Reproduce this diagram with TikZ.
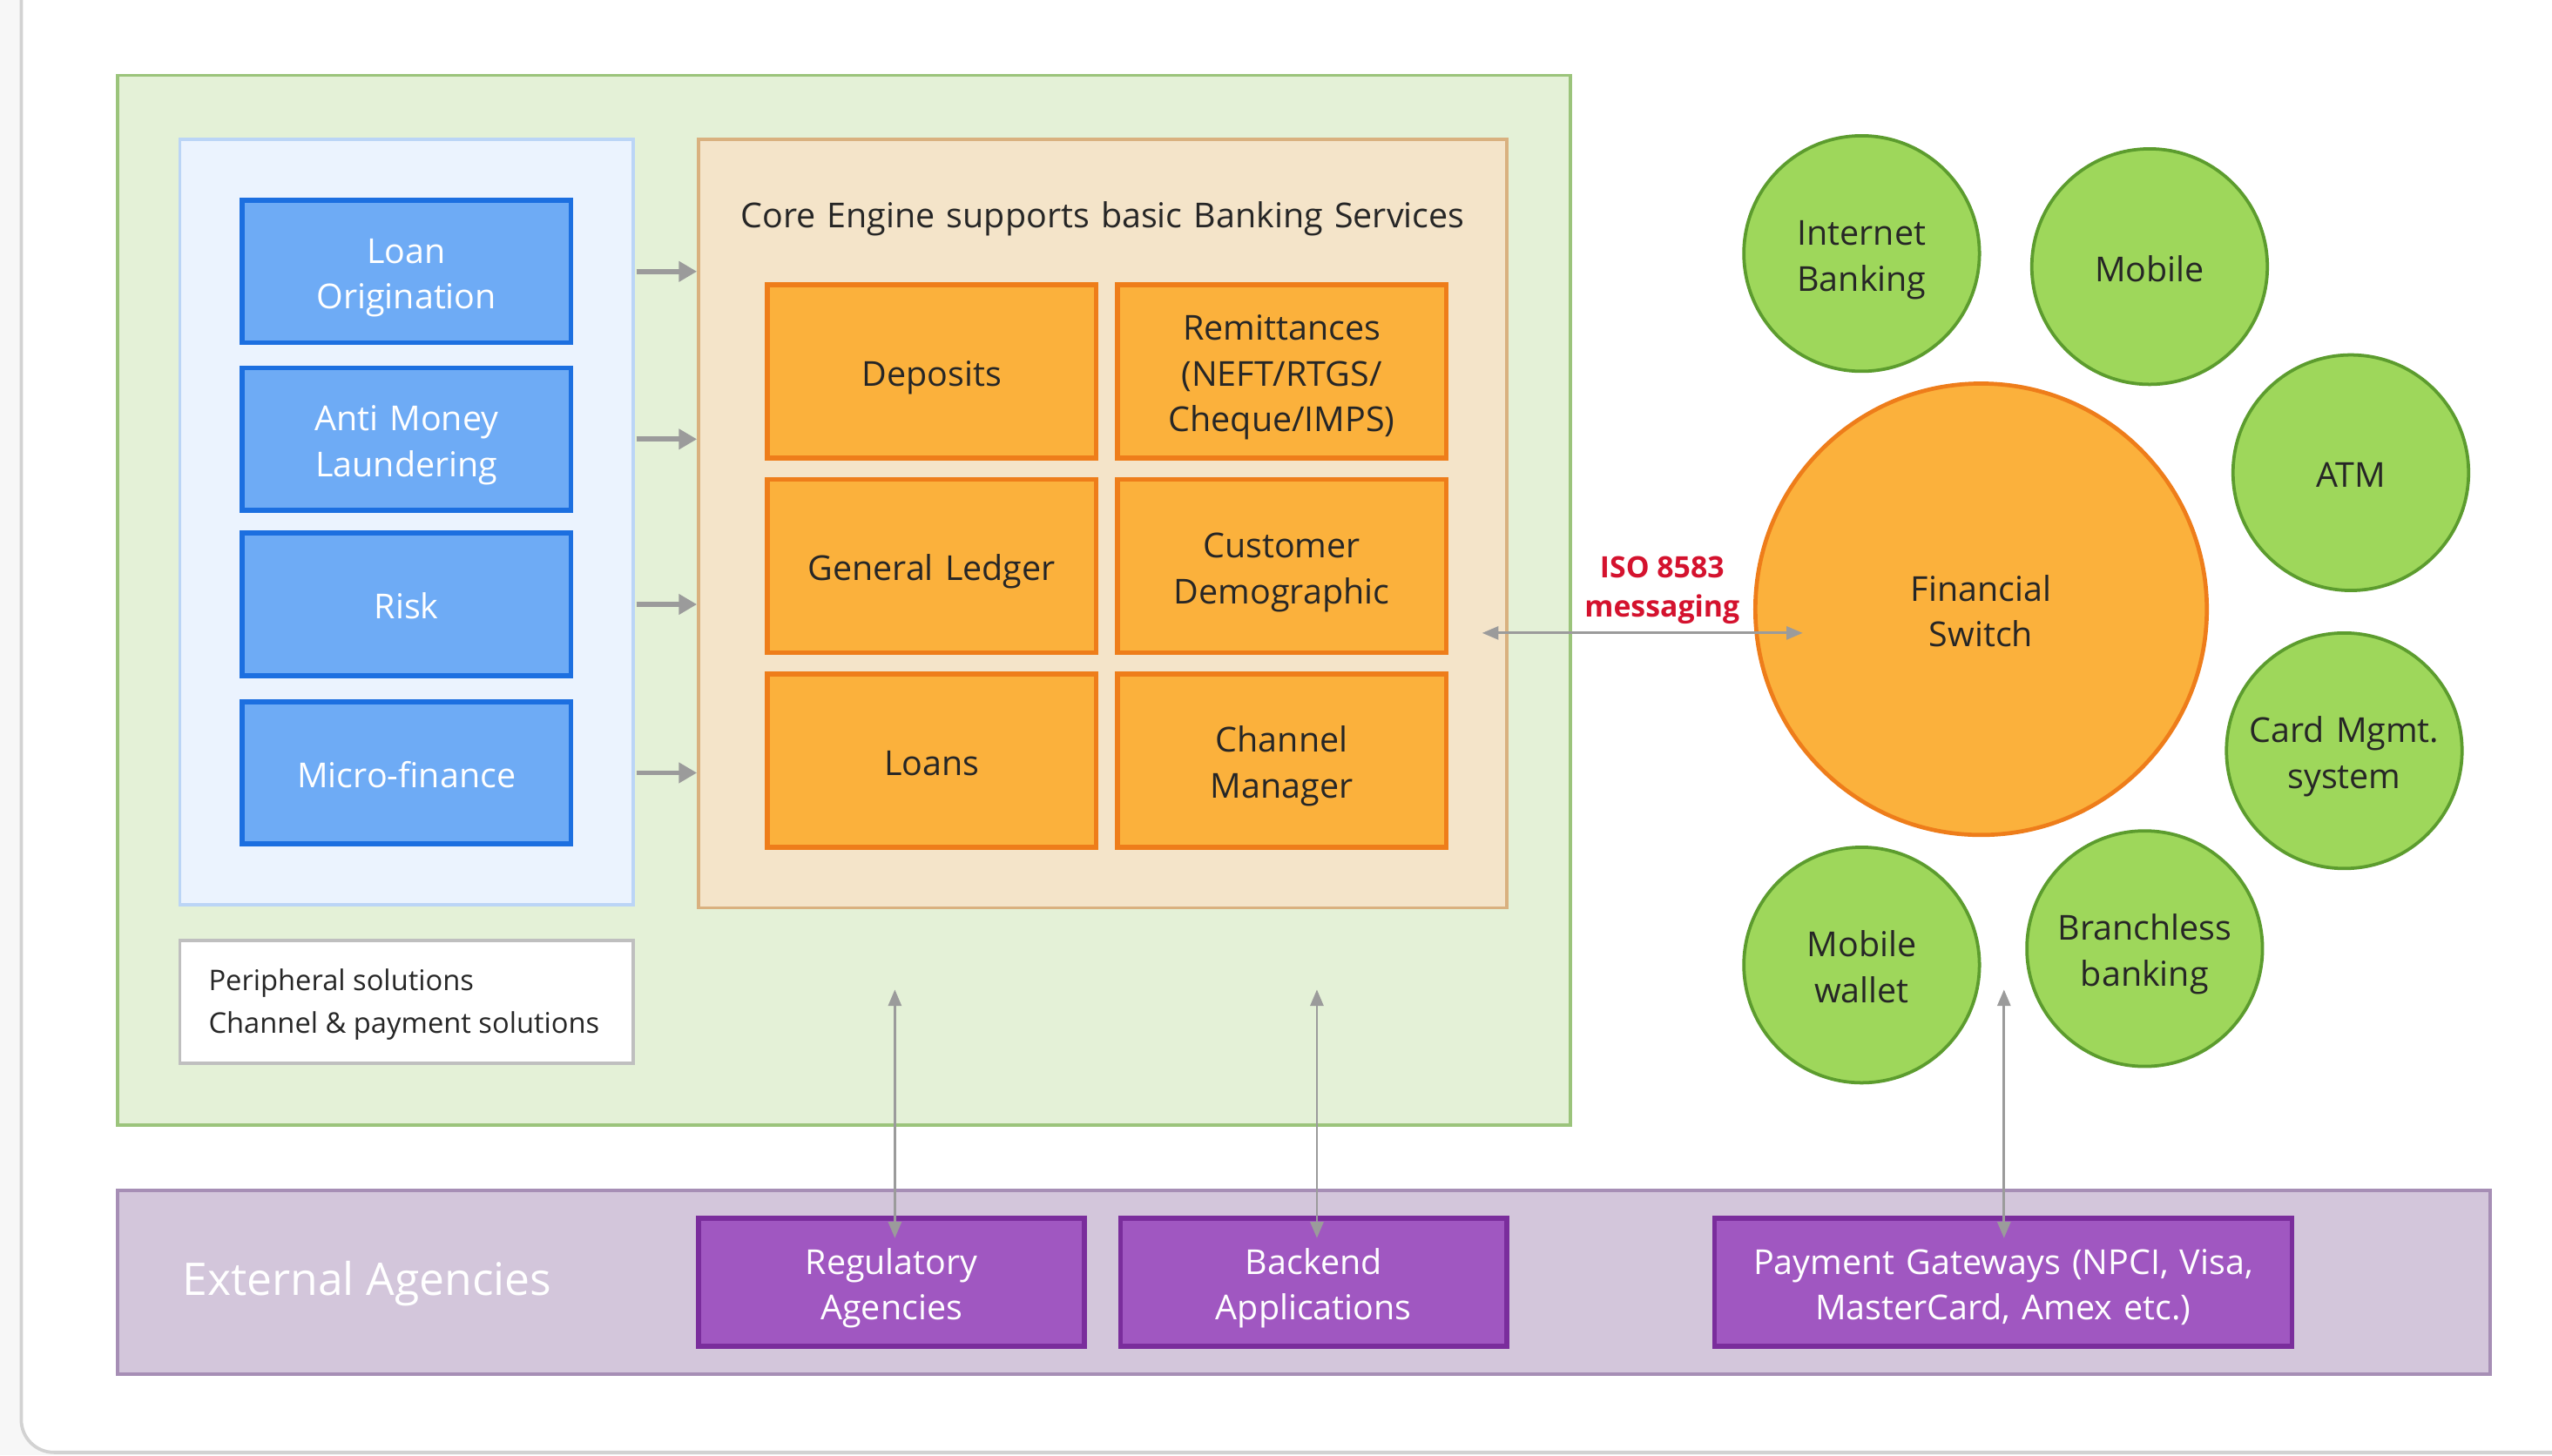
\documentclass[tikz,border=0pt]{standalone}
\usepackage{fontspec}
\setmainfont{Open Sans}
\usetikzlibrary{arrows.meta}

\definecolor{pagegray}{HTML}{F7F7F7}
\definecolor{cardline}{HTML}{D2D2D2}
\definecolor{bggreen}{HTML}{E4F1D7}
\definecolor{bggreenline}{HTML}{9BC47B}
\definecolor{sideblue}{HTML}{EBF3FE}
\definecolor{sideblueline}{HTML}{BBD5F6}
\definecolor{modblue}{HTML}{6EABF5}
\definecolor{modblueline}{HTML}{1C6FE0}
\definecolor{corefill}{HTML}{F4E4C9}
\definecolor{coreline}{HTML}{D9B17F}
\definecolor{svcorange}{HTML}{FBB13C}
\definecolor{svcline}{HTML}{EE7D1A}
\definecolor{chgreen}{HTML}{9ED75B}
\definecolor{chgreenline}{HTML}{5C9C2E}
\definecolor{extfill}{HTML}{D3C6DB}
\definecolor{extline}{HTML}{A68EB5}
\definecolor{agfill}{HTML}{A057C1}
\definecolor{agline}{HTML}{7A2D9C}
\definecolor{isored}{HTML}{D4122E}
\definecolor{arrgray}{HTML}{9B9B9B}
\definecolor{txtdark}{HTML}{262626}

% top and bottom struts, so every line sits the same way in its box
\newcommand\topstrut{\rule{0pt}{25pt}}
\newcommand\botstrut{\rule[-7pt]{0pt}{7pt}}

\tikzset{
  boxtext/.style={align=center, inner sep=0pt, text width=190pt,
    font=\fontsize{21}{28}\selectfont,
    execute at begin node=\topstrut, execute at end node=\botstrut},
  modbox/.style={boxtext, draw=modblueline, fill=modblue, line width=3pt, text=white,
    minimum width=201pt, minimum height=87pt},
  svcbox/.style={boxtext, draw=svcline, fill=svcorange, line width=3pt, text=txtdark,
    minimum width=201pt, minimum height=106pt},
  agbox/.style={boxtext, draw=agline, fill=agfill, line width=3pt, text=white,
    minimum height=78pt},
  chan/.style={boxtext, circle, draw=chgreenline, fill=chgreen, line width=2pt,
    text width=118pt, minimum size=144pt, text=txtdark},
  sidearr/.style={draw=arrgray, line width=3pt, -{Triangle[length=11pt,width=12pt]}},
  linkarr/.style={draw=arrgray, line width=1.5pt,
    {Triangle[length=10pt,width=8pt]}-{Triangle[length=10pt,width=8pt]}}
}

\begin{document}
\begin{tikzpicture}[x=1pt, y=-1pt]
  \useasboundingbox (0,0) rectangle (1560,889.7);
  % page behind the card
  \fill[pagegray] (0,0) rectangle (1560,889.7);
  \fill[white] (13,-5) -- (13,868) arc[start angle=180, end angle=90, radius=20] -- (1565,888) -- (1565,-5) -- cycle;
  \draw[cardline, line width=2pt] (13,-5) -- (13,868) arc[start angle=180, end angle=90, radius=20] -- (1565,888);

  % green area
  \draw[bggreenline, fill=bggreen, line width=2pt] (72,46) rectangle (960,688);
  \node[draw=sideblueline, fill=sideblue, line width=2pt, minimum width=277pt,
    minimum height=468pt, inner sep=0pt] (side) at (248.5,319) {};
  \node[draw=coreline, fill=corefill, line width=2pt, minimum width=494pt,
    minimum height=470pt, inner sep=0pt] (core) at (674,320) {};
  \node[boxtext, text width=480pt, text=txtdark] (coretitle) at (674,130)
    {Core Engine supports basic Banking Services};

  % peripheral modules
  \node[modbox] (loan) at (248.5,166) {Loan\\Origination};
  \node[modbox] (aml) at (248.5,268.5) {Anti Money\\Laundering};
  \node[modbox] (risk) at (248.5,369.5) {Risk};
  \node[modbox] (micro) at (248.5,472.5) {Micro-finance};

  \node[draw=black!25, fill=white, line width=2pt, minimum width=277pt,
    minimum height=75pt, inner sep=0pt] (peri) at (248.5,612.5) {};
  \node[anchor=west, align=left, text=txtdark, font=\fontsize{17.4}{26}\selectfont] (peritxt)
    at (124,614) {Peripheral solutions\\Channel \& payment solutions};

  % core services
  \node[svcbox] (dep) at (569.5,227) {Deposits};
  \node[svcbox] (rem) at (783.5,227) {Remittances\\(NEFT/RTGS/\\Cheque/IMPS)};
  \node[svcbox] (gl) at (569.5,346) {General Ledger};
  \node[svcbox] (cust) at (783.5,346) {Customer\\Demographic};
  \node[svcbox] (lns) at (569.5,465) {Loans};
  \node[svcbox] (chm) at (783.5,465) {Channel\\Manager};

  \foreach \m in {loan,aml,risk,micro}
    \draw[sidearr] (\m.east -| side.east) ++(1,0) -- (\m.east -| core.west);

  % switch and channels
  \node[boxtext, circle, draw=svcline, fill=svcorange, line width=2.5pt, minimum size=276pt,
    text width=200pt, text=txtdark] (switch) at (1211,372.5) {Financial\\Switch};
  \node[chan] (inet) at (1138,155) {Internet\\Banking};
  \node[chan] (mob) at (1314,163) {Mobile};
  \node[chan] (atm) at (1437,289) {ATM};
  \node[chan] (card) at (1433,459) {Card Mgmt.\\system};
  \node[chan] (brl) at (1311,580) {Branchless\\banking};
  \node[chan] (wal) at (1138,590) {Mobile\\wallet};

  \coordinate (isoA) at (906,387);
  \coordinate (isoB) at (1102,387);
  \draw[linkarr] (isoA) -- (isoB);
  \node[text=isored, align=center, font=\bfseries\fontsize{18}{24}\selectfont] (iso)
    at (1016,361) {ISO 8583\\messaging};

  % external agencies
  \draw[extline, fill=extfill, line width=2pt] (72,728) rectangle (1522,840);
  \node[anchor=west, text=white, font=\fontsize{27.5}{34}\selectfont] (ext) at (108,785)
    {External Agencies};
  \node[agbox, minimum width=236pt, text width=225pt] (reg) at (545,784) {Regulatory\\Agencies};
  \node[agbox, minimum width=236pt, text width=225pt] (back) at (803,784) {Backend\\Applications};
  \node[agbox, minimum width=353pt, text width=340pt] (pay) at (1224.5,784)
    {Payment Gateways (NPCI, Visa,\\MasterCard, Amex etc.)};

  \coordinate (regtop) at (547,605);
  \coordinate (backtop) at (805,605);
  \coordinate (paytop) at (1225,605);
  \draw[linkarr] (regtop) -- (regtop |- 0,757);
  \draw[linkarr] (backtop) -- (backtop |- 0,757);
  \draw[linkarr] (paytop) -- (paytop |- 0,757);
\end{tikzpicture}
\end{document}
